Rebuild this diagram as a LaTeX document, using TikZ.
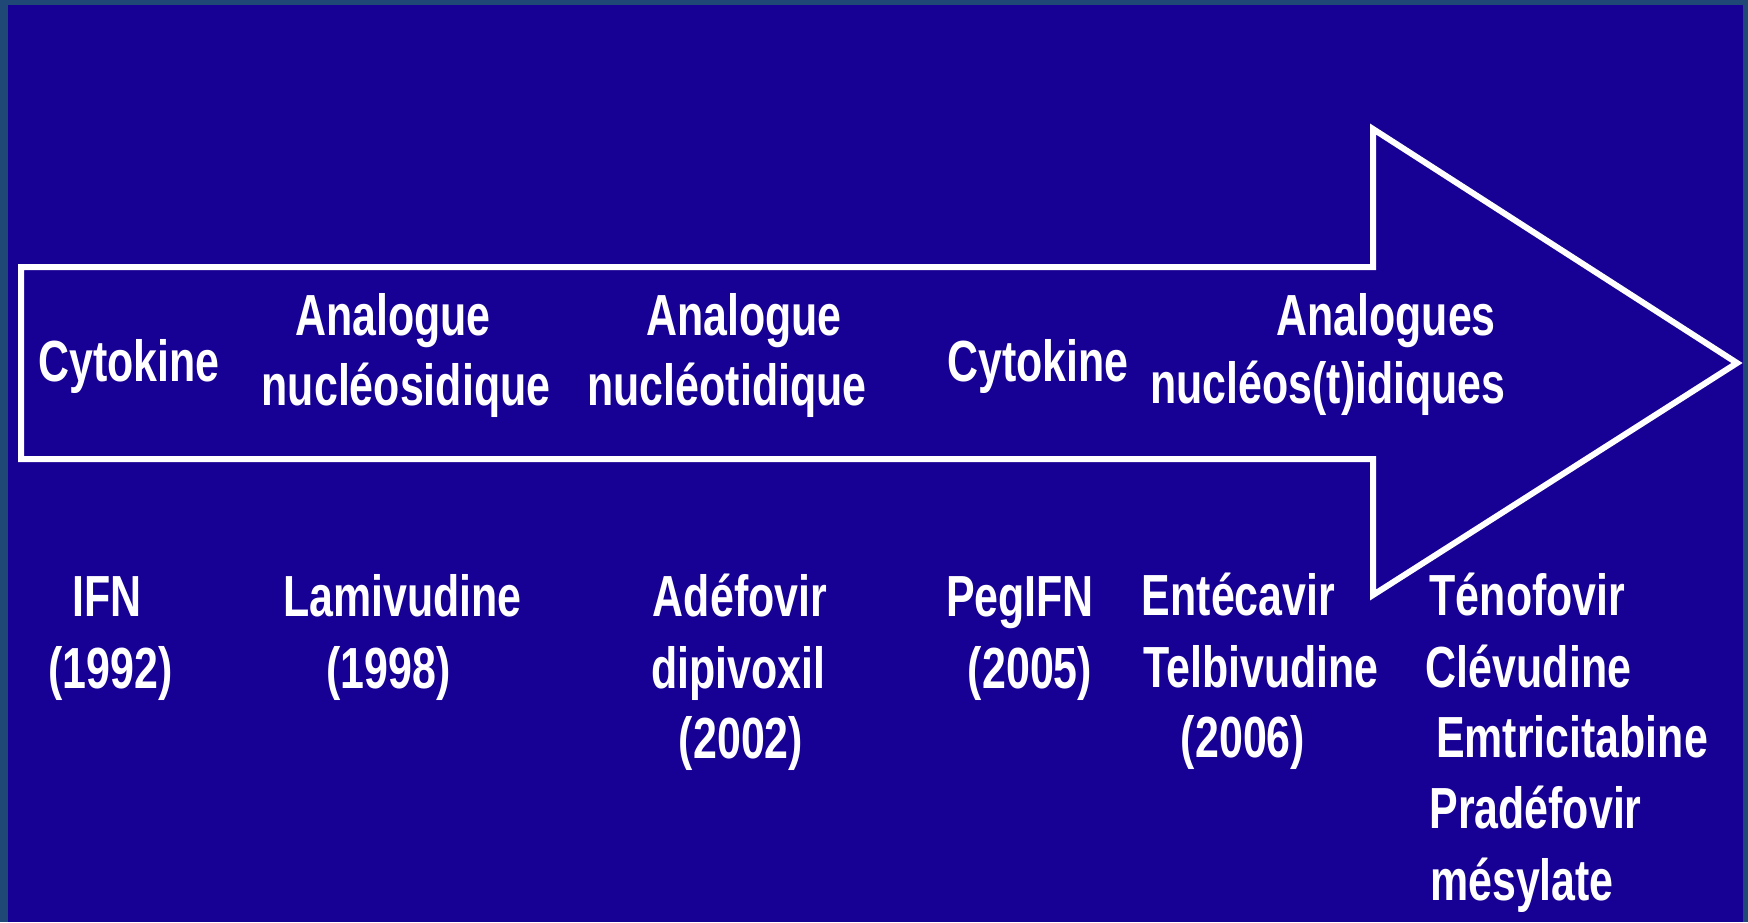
\documentclass[tikz,border=0pt]{standalone}
\usepackage{fontspec}
\newfontfamily\lab[FakeStretch=0.74]{Liberation Sans}
\definecolor{slideblue}{RGB}{23,0,148}
\definecolor{frameblue}{RGB}{31,72,118}
\begin{document}
\begin{tikzpicture}[x=0.5pt,y=-0.5pt,
  lbl/.style={anchor=base,inner sep=0pt,text=white,font=\lab\bfseries\fontsize{29pt}{34pt}\selectfont}]
\fill[frameblue] (0,0) rectangle (1748,922);
\useasboundingbox (0,0) rectangle (1748,922);
\fill[slideblue] (8,5) rectangle (1737,922);
% arrow
\draw[white,line width=3pt,miter limit=10] (21,267) -- (1373,267) -- (1373,129) -- (1737,363) -- (1373,595) -- (1373,459) -- (21,459) -- cycle;
\fill[frameblue] (1743,0) rectangle (1748,922);
\fill[slideblue] (1737,5) rectangle (1743,922);
\begin{scope}
\clip (1737,5) rectangle (1743,922);
\draw[white,line width=3pt,miter limit=10] (1373,129) -- (1737,363) -- (1373,595);
\end{scope}
% arrow labels
\node[lbl] (c1) at (129,381) {Cytokine};
\node[lbl] (a1) at (393,335) {Analogue};
\node[lbl] (a1b) at (406,405) {nucléosidique};
\node[lbl] (a2) at (744,335) {Analogue};
\node[lbl] (a2b) at (727,405) {nucléotidique};
\node[lbl] (c2) at (1038,381) {Cytokine};
\node[lbl] (a3) at (1386,335) {Analogues};
\node[lbl] (a3b) at (1328,403) {nucléos(t)idiques};
% drugs
\node[lbl] (d1) at (107,616) {IFN};
\node[lbl] (d1y) at (110.5,688) {(1992)};
\node[lbl] (d2) at (402.5,616) {Lamivudine};
\node[lbl] (d2y) at (388.5,688) {(1998)};
\node[lbl] (d3) at (740,616) {Adéfovir};
\node[lbl] (d3b) at (738.5,688) {dipivoxil};
\node[lbl] (d3y) at (741,758) {(2002)};
\node[lbl] (d4) at (1020,616) {PegIFN};
\node[lbl] (d4y) at (1030,688) {(2005)};
\node[lbl] (d5) at (1238.5,615) {Entécavir};
\node[lbl] (d5b) at (1261,687) {Telbivudine};
\node[lbl] (d5y) at (1243,757) {(2006)};
\node[lbl] (d6) at (1527.5,615) {Ténofovir};
\node[lbl] (d6b) at (1528.5,687) {Clévudine};
\node[lbl] (d6c) at (1572,757) {Emtricitabine};
\node[lbl] (d6d) at (1535.5,828) {Pradéfovir};
\node[lbl] (d6e) at (1522,900) {mésylate};
\end{tikzpicture}
\end{document}
